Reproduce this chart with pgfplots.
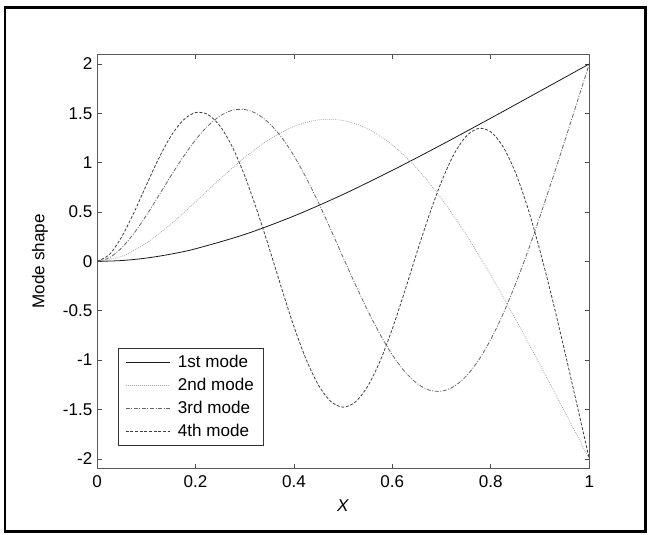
\documentclass[border=0pt]{standalone}
\usepackage{fontspec}
\setmainfont{Liberation Sans}
\usepackage{pgfplots}
\pgfplotsset{compat=1.18}

\begin{document}
\begin{tikzpicture}[font=\fontsize{12.8}{15}\selectfont]
% page = 654 x 535 px, 1 px = 0.75 pt
\path[use as bounding box] (0pt,0pt) rectangle (490.5pt,401.25pt);
\draw[line width=1.9pt] (3.75pt,2.5pt) rectangle (484.1pt,395.6pt);
\begin{axis}[
  at={(72.75pt,49.7pt)}, anchor=south west,
  scale only axis, width=369.2pt, height=311pt,
  xmin=0, xmax=1, ymin=-2.1, ymax=2.1,
  xtick={0,0.2,0.4,0.6,0.8,1},
  xticklabels={0,0.2,0.4,0.6,0.8,1},
  ytick={-2,-1.5,-1,-0.5,0,0.5,1,1.5,2},
  yticklabels={-2,-1.5,-1,-0.5,0,0.5,1,1.5,2},
  tick align=inside, major tick length=3.5pt,
  tick style={black!70, line width=0.5pt},
  axis line style={black!65, line width=0.6pt},
  xticklabel style={yshift=-1.5pt},
  xlabel={\textit{X}}, ylabel={Mode shape},
  xlabel style={at={(axis description cs:0.5,-0.088)}, anchor=center},
  ylabel style={at={(axis description cs:-0.116,0.5)}, anchor=center},
  legend style={at={(0.043,0.055)}, anchor=south west, draw=black!80,
    line width=0.5pt, inner xsep=5pt, inner ysep=3.5pt, row sep=2.3pt,
    cells={anchor=west}},
  legend image code/.code={\draw[#1] (0pt,0pt) -- (33pt,0pt); \path (37pt,0pt);},
]
% 1st mode
\addplot[black!90, line width=0.6pt, smooth] coordinates {
(0,0) (0.05,0.0086) (0.1,0.0335) (0.15,0.0737) (0.2,0.1277) (0.3,0.2730)
(0.4,0.4597) (0.5,0.6785) (0.6,0.9223) (0.7,1.1817) (0.8,1.4510)
(0.9,1.7248) (1,2.0000)};
% 2nd mode
\addplot[black!35, line width=0.6pt, dash pattern=on 0.6pt off 0.9pt, smooth] coordinates {
(0,0) (0.05,0.0507) (0.1,0.1853) (0.15,0.3776) (0.2,0.6021) (0.25,0.8345)
(0.3,1.0523) (0.35,1.2353) (0.4,1.3669) (0.45,1.4339) (0.5,1.4273)
(0.55,1.3425) (0.6,1.1790) (0.65,0.9405) (0.7,0.6341) (0.75,0.2700)
(0.8,-0.1400) (0.85,-0.5833) (0.9,-1.0475) (0.95,-1.5221) (1,-2.0000)};
% 3rd mode
\addplot[black!60, line width=0.6pt, dash pattern=on 3pt off 1.2pt on 0.7pt off 1.2pt, smooth] coordinates {
(0,0) (0.025,0.0366) (0.05,0.1364) (0.075,0.2838) (0.1,0.4639) (0.125,0.6620)
(0.15,0.8640) (0.175,1.0572) (0.2,1.2294) (0.225,1.3711) (0.25,1.4736)
(0.275,1.5307) (0.3,1.5382) (0.325,1.4944) (0.35,1.3995) (0.375,1.2564)
(0.4,1.0698) (0.425,0.8460) (0.45,0.5934) (0.475,0.3213) (0.5,0.0401)
(0.525,-0.2357) (0.55,-0.4986) (0.575,-0.7390) (0.6,-0.9475) (0.625,-1.1155)
(0.65,-1.2361) (0.675,-1.3037) (0.7,-1.3148) (0.725,-1.2677) (0.75,-1.1628)
(0.775,-1.0021) (0.8,-0.7896) (0.825,-0.5305) (0.85,-0.2315) (0.875,0.1003)
(0.9,0.4573) (0.925,0.8319) (0.95,1.2174) (0.975,1.6082) (1,2.0000)};
% 4th mode
\addplot[black!75, line width=0.6pt, dash pattern=on 2.2pt off 1.3pt, smooth] coordinates {
(0,0) (0.025,0.0686) (0.05,0.2469) (0.075,0.4939) (0.1,0.7700) (0.125,1.0386)
(0.15,1.2675) (0.175,1.4302) (0.2,1.5076) (0.225,1.4885) (0.25,1.3703)
(0.275,1.1589) (0.3,0.8677) (0.325,0.5169) (0.35,0.1315) (0.375,-0.2723)
(0.4,-0.6589) (0.425,-0.9944) (0.45,-1.2539) (0.475,-1.4187) (0.5,-1.4764)
(0.525,-1.4234) (0.55,-1.2638) (0.575,-1.0101) (0.6,-0.6817) (0.625,-0.3038)
(0.65,0.0923) (0.675,0.4713) (0.7,0.8107) (0.725,1.0836) (0.75,1.2677)
(0.775,1.3468) (0.8,1.3118) (0.825,1.1612) (0.85,0.9009) (0.875,0.5434)
(0.9,0.1061) (0.925,-0.3829) (0.95,-0.9073) (0.975,-1.4508) (1,-2.0000)};
\legend{1st mode,2nd mode,3rd mode,4th mode}
\end{axis}
\end{tikzpicture}
\end{document}
